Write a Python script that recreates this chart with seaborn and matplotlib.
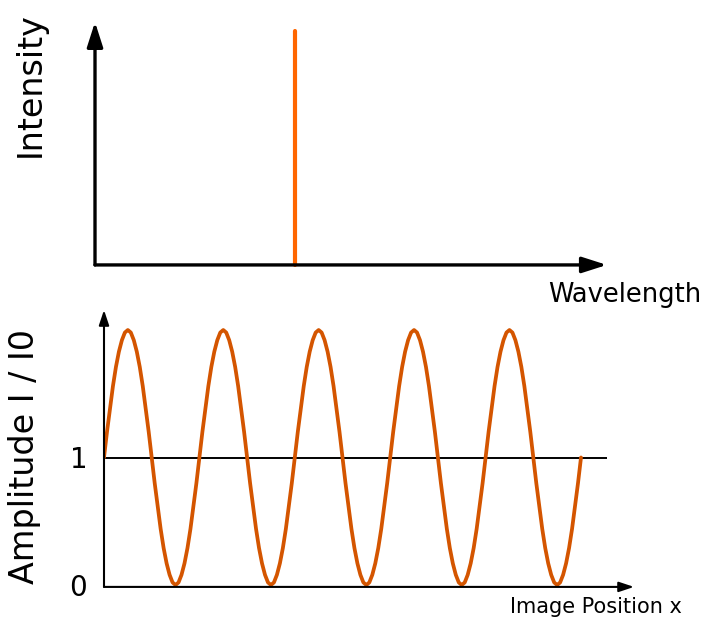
import numpy as np
import pandas as pd
import matplotlib
matplotlib.use("Agg")
import matplotlib.pyplot as plt
import seaborn as sns

# top panel: single spectral line
peak_wavelength = [0.38, 0.38]
peak_intensity = [0.0, 1.0]

# bottom panel: one period of the fringe pattern (32 samples), repeated
period_samples = [1.0, 1.20, 1.38, 1.56, 1.71, 1.83, 1.92, 1.98,
                  2.0, 1.98, 1.92, 1.83, 1.71, 1.56, 1.38, 1.20,
                  1.0, 0.80, 0.62, 0.44, 0.29, 0.17, 0.08, 0.02,
                  0.0, 0.02, 0.08, 0.17, 0.29, 0.44, 0.62, 0.80]
n_periods = 5
amplitude = period_samples * n_periods + [1.0]
position = np.linspace(0, n_periods, len(amplitude))
y_ticks = [0, 1]
y_tick_labels = ["0", "1"]
reference_level = 1.0

sns.set_style("white")
plt.rcParams["font.family"] = ["DejaVu Sans"]
plt.rcParams["text.color"] = "black"
plt.rcParams["ytick.color"] = "black"

W, H = 707, 619
fig = plt.figure(figsize=(W / 100, H / 100), dpi=100)


def fx(px):
    return px / W


def fy(py):
    return 1 - py / H


# ---- top panel ----
ax_top = fig.add_axes([fx(95), fy(275), (620 - 95) / W, (275 - 15) / H])
ax_top.set_xlim(0, 1)
ax_top.set_ylim(-0.043, 1.068)
ax_top.axis("off")

df_top = pd.DataFrame({"wavelength": peak_wavelength, "intensity": peak_intensity})
sns.lineplot(data=df_top, x="wavelength", y="intensity", estimator=None, sort=False,
             color="#ff6600", lw=3, ax=ax_top)

big_arrow = dict(arrowstyle="-|>,head_length=0.75,head_width=0.24", color="black",
                 lw=2.4, mutation_scale=20, shrinkA=0, shrinkB=0)
ax_top.annotate("", xy=(0, 1.038), xytext=(0, 0), arrowprops=big_arrow)
ax_top.annotate("", xy=(0.975, 0), xytext=(0, 0), arrowprops=big_arrow)

fig.text(fx(30), fy(85), "Intensity", rotation=90, ha="center", va="center", fontsize=24)
fig.text(fx(625), fy(295), "Wavelength", ha="center", va="center", fontsize=18.5)

# ---- bottom panel ----
ax_bot = fig.add_axes([fx(104), fy(600), 536 / W, 295 / H])
ax_bot.set_xlim(0, 536 / 95.4)
ax_bot.set_ylim(-15 / 127.5, 2 + 25 / 127.5)
for s in ax_bot.spines.values():
    s.set_visible(False)
ax_bot.set_xticks([])
ax_bot.set_yticks(y_ticks)
ax_bot.set_yticklabels(y_tick_labels)
ax_bot.tick_params(axis="y", length=0, pad=12, labelsize=20, labelcolor="black")
ax_bot.grid(False)

ax_bot.hlines(reference_level, 0, 503 / 95.4, color="black", lw=1.4)

df_bot = pd.DataFrame({"position": position, "amplitude": amplitude})
sns.lineplot(data=df_bot, x="position", y="amplitude", estimator=None, sort=False,
             color="#d45500", lw=2.7, ax=ax_bot, solid_joinstyle="round")
ax_bot.set_xlabel("")
ax_bot.set_ylabel("")

small_arrow = dict(arrowstyle="-|>,head_length=0.6,head_width=0.2", color="black",
                   lw=1.5, mutation_scale=15, shrinkA=0, shrinkB=0)
ax_bot.annotate("", xy=(0, 2.157), xytext=(0, -0.015), arrowprops=small_arrow)
ax_bot.annotate("", xy=(5.556, -0.015), xytext=(0, -0.015), arrowprops=small_arrow)

fig.text(fx(25), fy(457), "Amplitude I / I0", rotation=90, ha="center", va="center", fontsize=24)
fig.text(fx(596), fy(607), "Image Position x", ha="center", va="center", fontsize=15)

fig.savefig("out.png", dpi=100)
